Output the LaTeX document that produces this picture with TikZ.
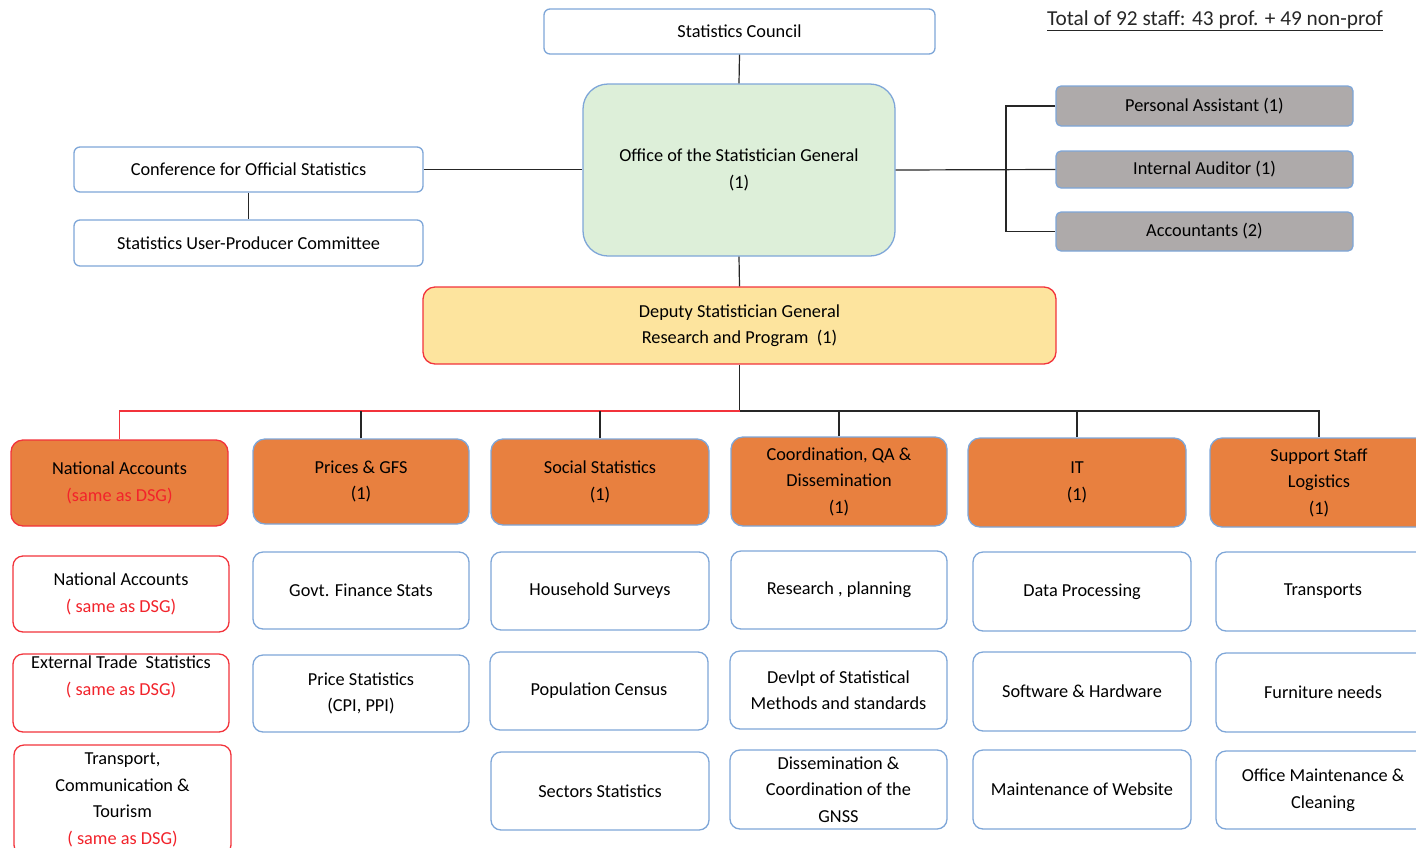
\documentclass[tikz,border=0pt]{standalone}
\usepackage{fontspec}
\setmainfont{Carlito}
\definecolor{bl}{HTML}{7EA6D8}
\definecolor{rd}{HTML}{F2333B}
\definecolor{orng}{HTML}{E8803F}
\definecolor{gry}{HTML}{AEAAAA}
\definecolor{grn}{HTML}{DDEFD9}
\definecolor{ylw}{HTML}{FDE49E}
\definecolor{txtred}{HTML}{F2232B}
\newcommand{\fs}{\fontsize{18.3}{26.5}\selectfont}
\newcommand{\sd}[1]{{\color{txtred}#1}}
\tikzset{
  base/.style={rounded corners=10pt, line width=1.3pt, align=center, inner sep=0pt, font=\fs, text=black},
  bluebox/.style={base, draw=bl, fill=white},
  redbox/.style={base, draw=rd, fill=white},
  orbox/.style={base, draw=bl, fill=orng, rounded corners=12pt},
  graybox/.style={base, draw=bl, fill=gry, rounded corners=5pt},
  conn/.style={draw=black!85, line width=1.2pt},
  rconn/.style={draw=rd, line width=1.6pt},
}
\begin{document}
\begin{tikzpicture}[x=1pt,y=-1pt]
\useasboundingbox (0,0) rectangle (1416,847);
\clip (0,0) rectangle (1416,847);
% top
\node[bluebox, rounded corners=6pt, minimum width=391, minimum height=45] (council) at (739.5,31.5) {Statistics Council};
\node[bluebox, fill=grn, rounded corners=25pt, minimum width=312, minimum height=172] (office) at (739,170) {Office of the Statistician General\\(1)};
\node[bluebox, rounded corners=6pt, minimum width=349, minimum height=45] (conf) at (248.5,169.5) {Conference for Official Statistics};
\node[bluebox, rounded corners=6pt, minimum width=349, minimum height=46] (upc) at (248.5,243) {Statistics User-Producer Committee};
\node[graybox, minimum width=297, minimum height=40] (pa) at (1204.5,106) {Personal Assistant (1)};
\node[graybox, minimum width=297, minimum height=37] (ia) at (1204.5,169.5) {Internal Auditor (1)};
\node[graybox, minimum width=297, minimum height=39] (acc) at (1204.5,231.5) {Accountants (2)};
\node[font=\fontsize{21.3}{24}\selectfont, text=black!85, inner sep=0pt] (total) at (1215,20.5) {\underline{Total of 92 staff: 43 prof. + 49 non-prof}};
\node[redbox, fill=ylw, rounded corners=12pt, minimum width=633, minimum height=77] (dsg) at (739.5,325.5) {Deputy Statistician General\\Research and Program\ \ (1)};
% orange row
\node[orbox, draw=rd, minimum width=217, minimum height=86] (na) at (119.5,483) {National Accounts\\\sd{(same as DSG)}};
\node[orbox, minimum width=216, minimum height=85] (pg) at (361,481.5) {Prices \& GFS\\(1)};
\node[orbox, minimum width=218, minimum height=86] (ss) at (600,482) {Social Statistics\\(1)};
\node[orbox, minimum width=216, minimum height=89] (cq) at (839,481.5) {Coordination, QA \&\\Dissemination\\(1)};
\node[orbox, minimum width=218, minimum height=89] (it) at (1077,482.5) {IT\\(1)};
\node[orbox, minimum width=218, minimum height=89] (sup) at (1319,482.5) {Support Staff\\Logistics\\(1)};
% column 1
\node[redbox, minimum width=216, minimum height=76] (na2) at (121,594) {National Accounts\\\sd{( same as DSG)}};
\node[redbox, minimum width=216, minimum height=78] (et) at (121,693) {External Trade\ \ Statistics\\\sd{( same as DSG)}\\\strut};
\node[redbox, minimum width=217, minimum height=110] (tr) at (122.5,800) {Transport,\\Communication \&\\Tourism\\\sd{( same as DSG)}};
% column 2
\node[bluebox, minimum width=216, minimum height=77] (gf) at (361,590.5) {Govt. Finance Stats};
\node[bluebox, minimum width=216, minimum height=77] (ps) at (361,693.5) {Price Statistics\\(CPI, PPI)};
% column 3
\node[bluebox, minimum width=218, minimum height=78] (hs) at (600,591) {Household Surveys};
\node[bluebox, minimum width=218, minimum height=78] (pc) at (599,691) {Population Census};
\node[bluebox, minimum width=218, minimum height=78] (sec) at (600,791) {Sectors Statistics};
% column 4
\node[bluebox, minimum width=216, minimum height=78] (rp) at (839,590) {Research , planning};
\node[bluebox, minimum width=217, minimum height=78] (dv) at (838.5,690) {Devlpt of Statistical\\Methods and standards};
\node[bluebox, minimum width=217, minimum height=79] (dis) at (838.5,789.5) {Dissemination \&\\Coordination of the\\GNSS};
% column 5
\node[bluebox, minimum width=218, minimum height=79] (dp) at (1082,591.5) {Data Processing};
\node[bluebox, minimum width=218, minimum height=79] (sw) at (1082,691.5) {Software \& Hardware};
\node[bluebox, minimum width=218, minimum height=79] (mw) at (1082,789.5) {Maintenance of Website};
% column 6
\node[bluebox, minimum width=214, minimum height=79] (tp) at (1323,591.5) {Transports};
\node[bluebox, minimum width=214, minimum height=79] (fn) at (1323,692.5) {Furniture needs};
\node[bluebox, minimum width=214, minimum height=78] (om) at (1323,790) {Office Maintenance \&\\Cleaning};
% connectors
\coordinate (bus) at (739.5,411);
\coordinate (jx) at (1006,170);
\draw[conn] (council.south) -- (office.north);
\draw[conn] (conf.east) -- (conf.east -| office.west);
\draw[conn] (conf.south) -- (upc.north);
\draw[conn] (office.east) -- (ia.west);
\draw[conn] (pa.west) -| (jx) |- (acc.west);
\draw[conn] (office.south) -- (dsg.north);
\draw[conn] (dsg.south) -- (bus);
\draw[rconn] (bus) -| (na.north);
\draw[conn] (bus) -| (sup.north);
\draw[conn] (pg.north) -- (pg.north |- bus);
\draw[conn] (ss.north) -- (ss.north |- bus);
\draw[conn] (cq.north) -- (cq.north |- bus);
\draw[conn] (it.north) -- (it.north |- bus);
\end{tikzpicture}
\end{document}
